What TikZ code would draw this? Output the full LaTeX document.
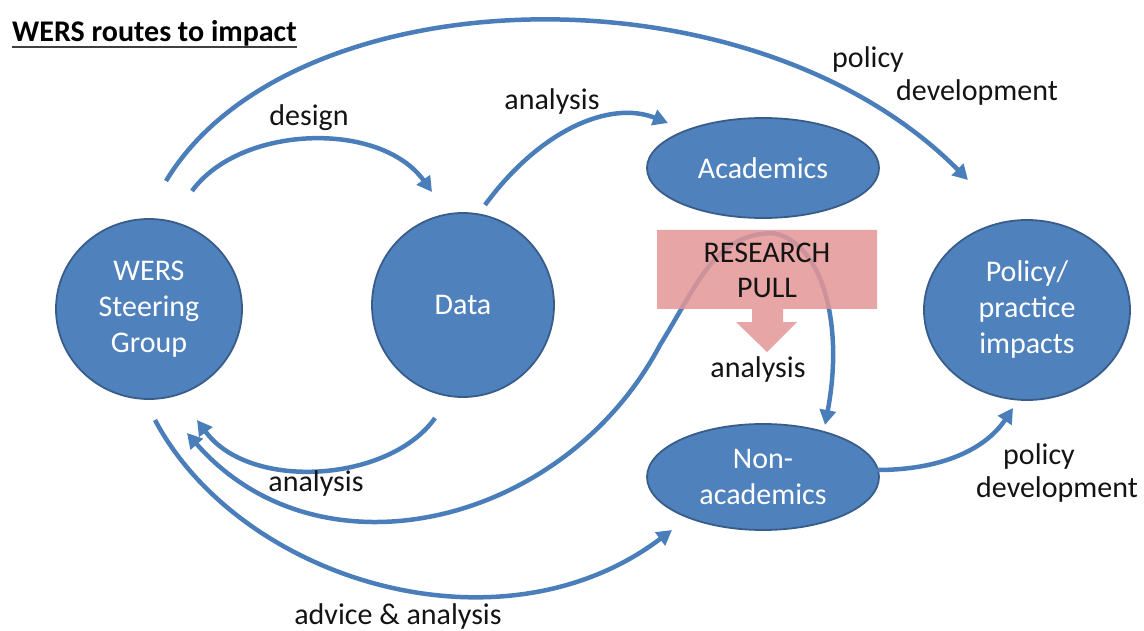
\documentclass[tikz,border=0pt]{standalone}
\usepackage{fontspec}
\setmainfont{Carlito}
\usetikzlibrary{shapes.geometric,arrows.meta}
\definecolor{bfill}{RGB}{79,129,189}
\definecolor{bborder}{RGB}{56,93,138}
\definecolor{barrow}{RGB}{74,126,187}
\definecolor{pinkfill}{RGB}{228,150,150}
\definecolor{txt}{RGB}{20,20,20}
\begin{document}
\begin{tikzpicture}[x=1pt,y=-1pt,
  bub/.style={ellipse, fill=bfill, draw=bborder, line width=1.8pt, text=white, align=center, inner sep=0pt, font=\fontsize{30}{36}\selectfont},
  flow/.style={draw=barrow, line width=4.5pt, -{Triangle[length=15pt,width=16pt]}},
  lbl/.style={font=\fontsize{30}{35}\selectfont, inner sep=0pt, text=txt, align=center}]
\useasboundingbox (0,0) rectangle (1144,631);
\fill[white] (0,0) rectangle (1144,631);

% title
\node[font=\fontsize{30}{36}\selectfont\bfseries, anchor=base west, inner sep=0pt, text=black] (title) at (12,42) {WERS routes to impact};
\draw[line width=2pt, black!75] ([yshift=-5pt]title.base west) -- ([yshift=-5pt]title.base east);

% bubbles
\node[bub, minimum width=186pt, minimum height=180pt] (sg) at (149,309) {WERS\\Steering\\Group};
\node[bub, minimum width=182pt, minimum height=184pt] (data) at (463,305) {Data};
\node[bub, minimum width=232pt, minimum height=100pt] (acad) at (763,168) {Academics};
\node[bub, minimum width=206pt, minimum height=180pt] (pol) at (1027,310) {Policy/\\practice\\impacts};
\node[bub, minimum width=232pt, minimum height=106pt] (nonac) at (763,477) {Non-\\academics};

% connector ends
\coordinate (dS) at (192,191); \coordinate (dE) at (432,192);
\coordinate (pS) at (166,181); \coordinate (pE) at (968,180);
\coordinate (aS) at (485,205); \coordinate (aE) at (668,123);
\coordinate (bS) at (435,418); \coordinate (bE) at (197,420);
\coordinate (apex) at (772,233); \coordinate (lE) at (187,433);
\coordinate (rE) at (825,425); \coordinate (mid) at (660,345);
\coordinate (vS) at (155,420); \coordinate (vE) at (672,530);
\coordinate (qS) at (877,470); \coordinate (qE) at (1013,408);

% connectors
\draw[flow] (dS) .. controls (240,125) and (380,120) .. (dE);
\draw[flow] (pS) .. controls (290,-25) and (750,-40) .. (pE);
\draw[flow] (aS) .. controls (540,130) and (610,100) .. (aE);
\draw[flow] (bS) .. controls (390,482) and (250,492) .. (bE);
\draw[flow] (apex) .. controls (820,240) and (845,320) .. (rE);
\draw[flow] (apex) .. controls (715,235) and (700,280) .. (mid) .. controls (565,525) and (320,585) .. (lE);
\draw[flow] (vS) .. controls (240,580) and (500,660) .. (vE);
\draw[flow] (qS) .. controls (940,470) and (985,450) .. (qE);

% research pull block arrow
\fill[pinkfill, fill opacity=0.85] (657,230) -- (877,230) -- (877,309) -- (783,309) -- (783,322) -- (797,322) -- (767,352) -- (736,322) -- (752,322) -- (752,309) -- (657,309) -- cycle;
\node[lbl] (rp) at (767,270) {RESEARCH\\PULL};

% labels
\node[lbl] (l1) at (309,118) {design};
\node[lbl] (l2) at (552,102) {analysis};
\node[lbl] (l3) at (868,60) {policy};
\node[lbl] (l4) at (977,93) {development};
\node[lbl] (l5) at (316,484) {analysis};
\node[lbl] (l6) at (758,370) {analysis};
\node[lbl] (l7) at (1039,457) {policy};
\node[lbl] (l8) at (1057,490) {development};
\node[lbl] (l9) at (398,616) {advice \& analysis};
\end{tikzpicture}
\end{document}
